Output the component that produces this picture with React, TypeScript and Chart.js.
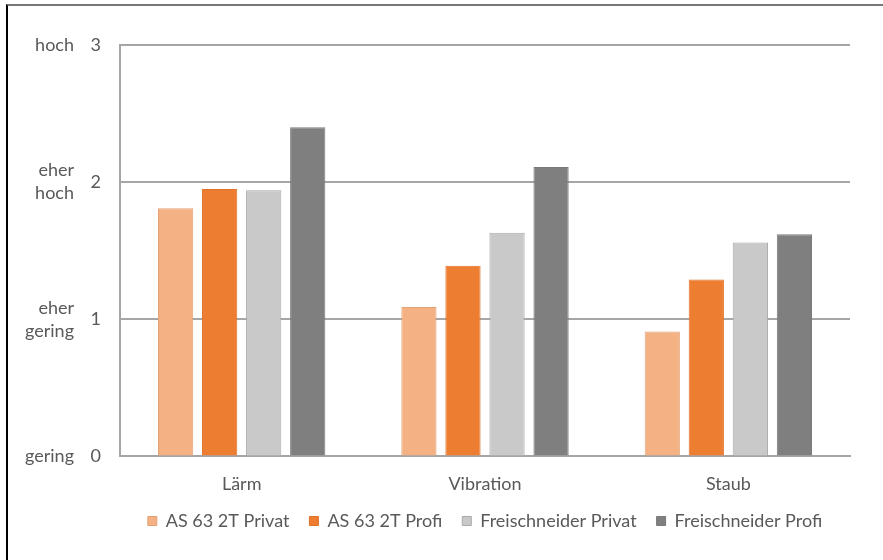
import React, { useEffect, useRef } from "react";
import { Chart, registerables } from "chart.js";

Chart.register(...registerables);

const categories = ["Lärm", "Vibration", "Staub"];
const seriesNames = ["AS 63 2T Privat", "AS 63 2T Profi", "Freischneider Privat", "Freischneider Profi"];
const asPrivat = [1.81, 1.09, 0.91];
const asProfi = [1.95, 1.39, 1.29];
const fsPrivat = [1.94, 1.63, 1.56];
const fsProfi = [2.4, 2.11, 1.62];
const levelLabels: (string | string[])[] = ["gering", ["eher", "gering"], ["eher", "hoch"], "hoch"];

const fills = ["#F4B183", "#ED7D31", "#C9C9C9", "#7F7F7F"];
const borders = ["#E2A275", "#E07128", "#A9A9A9", "#7A7A7A"];

export default function App() {
  const ref = useRef<HTMLCanvasElement | null>(null);
  useEffect(() => {
    if (!ref.current) return;
    const font = { family: "Lato, 'Open Sans', sans-serif", size: 18 };
    const values = [asPrivat, asProfi, fsPrivat, fsProfi];
    const chart = new Chart(ref.current, {
      type: "bar",
      data: {
        labels: categories,
        datasets: seriesNames.map((name, i) => ({
          label: name,
          data: values[i],
          backgroundColor: fills[i],
          borderColor: borders[i],
          borderWidth: 1,
          categoryPercentage: 0.724,
          barPercentage: 0.8,
        })),
      },
      options: {
        animation: false,
        responsive: true,
        maintainAspectRatio: false,
        layout: { padding: { left: 5, right: 33, top: 45, bottom: 20 } },
        plugins: {
          tooltip: { enabled: false },
          legend: {
            position: "bottom",
            fullSize: false,
            labels: {
              boxWidth: 9,
              boxHeight: 9,
              color: "#595959",
              font,
              padding: 20,
            },
          },
        },
        scales: {
          x: {
            grid: { display: false },
            border: { display: true, color: "#A6A6A6", width: 2 },
            ticks: { color: "#595959", font, padding: 9 },
            afterFit: (axis: any) => {
              axis.height -= 12;
            },
          },
          y: {
            position: "left",
            weight: 0,
            min: 0,
            max: 3,
            afterFit: (axis: any) => {
              axis.width = 44;
            },
            grid: { color: "#A6A6A6", lineWidth: 2, drawTicks: false },
            border: { display: true, color: "#A6A6A6", width: 2 },
            ticks: { stepSize: 1, color: "#595959", font, padding: 19 },
          },
          y2: {
            position: "left",
            weight: 1,
            min: 0,
            max: 3,
            afterFit: (axis: any) => {
              axis.width = 71;
            },
            grid: { display: false, drawTicks: false },
            border: { display: false },
            ticks: {
              stepSize: 1,
              color: "#595959",
              font: { ...font, lineHeight: 1.28 },
              padding: 2,
              callback: (v: any) => levelLabels[Number(v)] as any,
            },
          },
        },
      },
    });
    return () => chart.destroy();
  }, []);

  return (
    <div style={{ position: "fixed", left: 0, top: 0, width: 883, height: 560, background: "#fff" }}>
      <div
        style={{
          position: "absolute",
          left: 6,
          top: 4,
          right: 0,
          bottom: 0,
          borderTop: "2px solid #777",
          borderLeft: "2px solid #000",
        }}
      />
      <div style={{ position: "absolute", left: 0, top: 0, width: 883, height: 560 }}>
        <canvas ref={ref} />
      </div>
    </div>
  );
}
